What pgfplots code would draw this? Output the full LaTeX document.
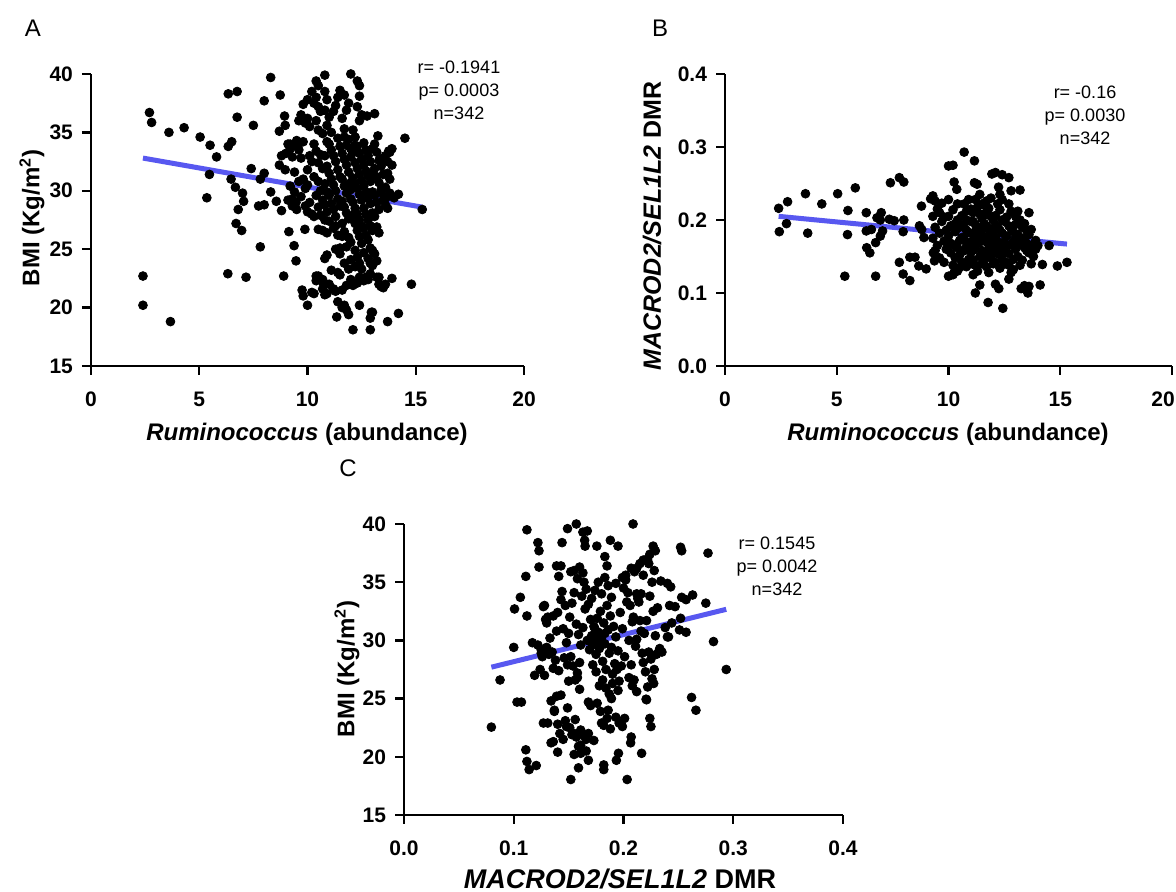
\documentclass[border=0pt]{standalone}
\usepackage{fontspec}
\setmainfont{Liberation Sans}
\usepackage{pgfplots}
\pgfplotsset{compat=1.18}
\definecolor{regblue}{RGB}{88,88,240}
\pgfplotsset{
  panel/.style={
    scale only axis, anchor=south west,
    axis x line*=bottom, axis y line*=left,
    axis line style={line width=1.2pt,-},
    tick align=outside, major tick length=4.5pt,
    tick style={line width=1.2pt, black},
    tick label style={font=\bfseries\fontsize{10.5}{12}\selectfont},
    xticklabel style={yshift=-5pt},
    yticklabel style={xshift=-1pt},
    clip=false,
  },
  dots/.style={only marks, mark=*, mark size=2.2pt, black, mark options={fill=black, draw=none}},
  reg/.style={regblue, line width=2.5pt, no marks},
}
\newcommand{\lab}{\bfseries\fontsize{12}{14}\selectfont}
\newcommand{\labb}{\bfseries\fontsize{12.5}{15}\selectfont}
\newcommand{\labm}{\bfseries\fontsize{13.5}{16}\selectfont}
\newcommand{\ann}{\fontsize{9}{11.5}\selectfont}
\begin{document}
\begin{tikzpicture}
\path[use as bounding box] (0,0) rectangle (588pt,446pt);
% ---------------- A
\begin{axis}[panel, at={(45.5pt,263pt)}, width=216.5pt, height=146pt,
  xmin=0, xmax=20, ymin=15, ymax=40,
  xtick={0,5,10,15,20}, xticklabels={0,5,10,15,20},
  ytick={15,20,25,30,35,40}, yticklabels={15,20,25,30,35,40}]
\addplot[reg] coordinates {(2.4,32.8) (15.3,28.6)};
\addplot[dots] coordinates {
(2.4,22.7)(2.4,20.2)(2.7,36.7)(2.8,35.85)(3.67,18.8)(3.6,35.0)(4.3,35.4)(5.04,34.6)(5.5,33.9)(5.47,31.4)(5.35,29.4)(5.8,32.9)
(6.34,38.3)(6.75,38.5)(6.75,36.3)(6.34,33.8)(6.5,34.2)(6.47,31.0)(6.67,30.3)(7.0,29.8)(7.05,29.1)(6.8,28.4)(6.7,27.2)(6.96,26.6)
(6.32,22.9)(7.16,22.6)(7.4,31.9)(7.5,35.6)(7.82,25.2)(8.0,37.7)(8.3,39.7)(8.0,31.5)(7.82,31.0)(7.74,28.7)(8.0,28.8)(8.3,29.9)
(8.74,38.2)(8.94,36.4)(8.97,35.6)(8.7,35.1)(8.8,33.0)(8.7,32.2)(8.97,31.8)(8.56,29.1)(8.8,28.3)(8.9,22.7)(9.14,26.5)(9.38,25.3)
(9.47,24.0)(9.3,29.3)(9.47,29.0)(9.2,34.0)(9.55,33.8)(9.75,21.5)(9.8,21.0)(10.0,20.2)(9.88,26.7)(10.4,39.4)(10.8,39.9)
(10.3,21.2)(10.4,22.7)(10.7,22.4)(10.75,22.0)(10.8,21.1)(10.8,24.2)(11.3,21.4)(11.35,19.2)(11.4,20.5)(11.7,20.2)(11.8,19.8)(11.9,19.4)
(12.1,18.1)(12.4,20.2)(12.9,18.1)(12.9,19.1)(12.95,19.6)(13.7,18.8)(14.2,19.5)(13.9,22.5)(14.8,22.0)(14.5,34.5)(15.3,28.4)
(12.0,40.0)(12.3,39.4)(12.4,39.0)(12.4,38.1)(12.3,37.2)(13.1,36.6)(12.75,36.4)(13.25,34.7)(13.75,33.4)(14.2,29.7)
(9.6,33.5)(9.7,32.8)(9.8,31.0)(9.9,30.2)(9.7,29.5)(9.9,28.7)(10.0,28.2)(9.8,34.2)(9.9,35.8)(10.0,36.2)(10.1,35.5)(9.6,30.8)(10.0,31.8)(10.1,33.0)(10.2,32.5)(10.1,29.0)(10.2,28.0)(10.3,27.8)(10.0,30.5)
(10.3,37.5)(10.4,38.0)(10.5,37.2)(10.6,36.8)(10.4,36.0)(10.5,35.2)(10.7,34.9)(10.3,34.0)(10.4,33.4)(10.6,33.1)(10.5,32.4)(10.7,31.9)(10.3,31.2)(10.5,30.8)(10.6,30.0)(10.4,29.6)(10.7,29.2)(10.5,28.6)(10.6,27.9)(10.8,27.5)(10.7,26.6)(10.9,26.4)(10.5,26.7)(10.8,38.5)(10.9,37.8)(10.8,36.9)(10.9,35.6)(10.9,34.2)(10.8,33.0)(10.9,32.1)(10.8,30.6)(10.9,29.9)(10.8,28.8)(10.9,28.2)(10.9,24.5)
(11.0,36.3)(11.1,35.0)(11.2,36.8)(11.3,37.3)(11.4,38.0)(11.5,38.6)(11.0,34.0)(11.1,33.5)(11.2,33.0)(11.3,32.5)(11.4,34.5)(11.5,33.8)(11.0,31.5)(11.1,31.0)(11.2,30.5)(11.3,30.0)(11.4,31.8)(11.5,31.2)(11.0,29.6)(11.1,28.9)(11.2,28.4)(11.3,27.8)(11.4,29.3)(11.5,28.7)(11.0,27.4)(11.2,26.8)(11.3,27.0)(11.4,26.2)(11.5,25.1)(11.3,25.0)(11.1,23.2)(11.4,23.0)(11.2,21.6)(11.5,24.6)(11.6,26.1)(11.0,22.0)(11.5,22.8)
(11.6,36.2)(11.7,35.3)(11.8,36.9)(11.9,37.5)(11.7,34.6)(11.8,33.9)(11.9,34.4)(12.0,33.6)(11.6,33.2)(11.7,32.7)(11.8,32.2)(11.9,31.6)(12.0,32.9)(11.6,31.0)(11.7,30.4)(11.8,29.8)(11.9,30.6)(12.0,30.1)(11.6,29.1)(11.7,28.6)(11.8,28.1)(11.9,27.6)(12.0,29.3)(11.6,27.2)(11.7,26.5)(11.9,26.0)(12.0,25.6)(11.8,25.2)(11.7,23.8)(11.9,23.3)(12.0,22.4)(11.8,21.9)(12.0,24.1)(11.6,21.5)(11.7,38.2)
(12.1,35.2)(12.2,34.6)(12.3,33.8)(12.4,33.2)(12.5,32.7)(12.1,33.3)(12.2,32.4)(12.3,31.9)(12.4,31.4)(12.5,30.9)(12.1,31.1)(12.2,30.6)(12.3,30.2)(12.4,29.7)(12.5,29.2)(12.1,29.0)(12.2,28.5)(12.3,28.0)(12.4,27.5)(12.5,27.0)(12.1,27.9)(12.2,27.2)(12.3,26.6)(12.4,26.1)(12.5,25.5)(12.2,24.9)(12.3,24.3)(12.4,23.8)(12.5,23.3)(12.2,23.5)(12.4,22.6)(12.1,21.9)(12.3,22.1)(12.5,36.5)(12.4,36.0)(12.2,33.9)
(12.6,34.1)(12.7,33.5)(12.8,33.0)(12.9,32.5)(13.0,33.6)(12.6,32.2)(12.7,31.7)(12.8,31.3)(12.9,30.8)(13.0,31.5)(12.6,30.4)(12.7,29.9)(12.8,29.4)(12.9,28.9)(13.0,29.9)(12.6,28.5)(12.7,28.0)(12.8,27.5)(12.9,27.0)(13.0,28.1)(12.6,26.8)(12.7,26.2)(12.8,25.8)(12.9,25.1)(13.0,26.6)(12.6,24.7)(12.8,24.2)(12.9,23.8)(13.0,24.9)(12.7,22.6)(12.9,22.9)(13.0,23.6)(12.6,22.3)
(13.1,34.0)(13.2,33.3)(13.3,32.6)(13.4,32.1)(13.5,32.8)(13.1,31.9)(13.2,31.2)(13.3,30.7)(13.4,30.1)(13.5,31.4)(13.1,29.6)(13.2,29.0)(13.3,28.4)(13.4,29.8)(13.5,29.2)(13.1,27.8)(13.2,26.9)(13.3,26.4)(13.1,24.6)(13.2,24.0)(13.3,22.0)(13.4,21.8)(13.5,21.7)(13.6,22.0)(13.2,22.6)
(13.6,33.0)(13.7,32.5)(13.8,33.3)(13.9,33.6)(13.7,31.5)(13.8,31.0)(13.6,30.3)(13.7,29.5)(13.8,29.8)(13.6,28.8)(13.7,28.5)(14.0,29.4)(13.9,32.2)
(9.1,34.0)(9.2,33.6)(9.3,32.9)(9.4,31.6)(9.2,30.4)(9.4,29.9)(9.3,28.7)(9.5,28.4)(9.1,29.2)(9.0,33.2)(9.5,34.3)(9.6,36.0)(9.7,36.5)(9.8,37.4)(10.0,37.8)(10.2,38.5)(10.5,39.0)
(10.2,21.3)(10.5,22.7)(10.9,21.2)(11.6,20.0)(12.8,22.4)(13.0,19.6)(13.3,22.6)(10.4,22.3)(10.7,21.6)
};
\end{axis}
% ---------------- B
\begin{axis}[panel, at={(362.5pt,263pt)}, width=223.5pt, height=146pt,
  xmin=0, xmax=20, ymin=0, ymax=0.4,
  xtick={0,5,10,15,20}, xticklabels={0,5,10,15,{\hspace*{-9pt}20}},
  ytick={0,0.1,0.2,0.3,0.4}, yticklabels={0.0,0.1,0.2,0.3,0.4}]
\addplot[reg] coordinates {(2.4,0.205) (15.3,0.167)};
\addplot[dots] coordinates {
(2.4,0.216)(2.43,0.184)(2.8,0.225)(2.75,0.195)(3.6,0.236)(3.7,0.182)(4.33,0.222)(5.04,0.236)(5.83,0.244)(5.5,0.213)(5.48,0.180)(5.36,0.123)
(6.32,0.210)(6.32,0.185)(6.55,0.187)(6.34,0.162)(6.48,0.155)(6.74,0.169)(6.74,0.123)(6.99,0.210)(6.95,0.200)(6.8,0.203)(7.05,0.185)(6.95,0.178)
(7.4,0.251)(7.8,0.258)(8.0,0.252)(7.35,0.201)(7.57,0.199)(8.0,0.200)(7.97,0.184)(7.8,0.142)(7.97,0.126)(8.27,0.117)(8.27,0.149)(8.5,0.149)(8.67,0.137)
(9.0,0.133)(8.79,0.219)(8.7,0.192)(8.8,0.187)(8.9,0.176)(9.2,0.229)(9.3,0.233)(10.0,0.274)(10.2,0.275)(10.7,0.293)(11.16,0.281)(10.25,0.252)(10.37,0.242)
(11.16,0.251)(11.28,0.249)(11.94,0.263)(12.1,0.265)(12.4,0.262)(12.7,0.258)(12.24,0.245)(12.8,0.240)(13.2,0.241)(13.6,0.210)(13.7,0.187)(14.5,0.165)
(14.2,0.139)(14.87,0.137)(15.3,0.142)(14.1,0.111)(13.6,0.109)(13.4,0.110)(13.25,0.106)(13.55,0.100)(11.77,0.087)(12.43,0.079)(11.2,0.100)(11.4,0.111)
(12.1,0.112)(12.25,0.106)(12.7,0.119)(10.0,0.123)(10.25,0.128)(9.37,0.144)(9.32,0.155)
(9.3,0.175)(9.4,0.190)(9.5,0.165)(9.6,0.182)(9.7,0.198)(9.8,0.171)(9.9,0.186)(9.4,0.158)(9.6,0.148)(9.8,0.204)(9.5,0.215)(9.7,0.223)(9.9,0.160)(9.3,0.205)(9.6,0.210)(9.8,0.142)(9.4,0.226)
(10.0,0.178)(10.1,0.192)(10.2,0.166)(10.3,0.184)(10.4,0.200)(10.5,0.172)(10.0,0.205)(10.1,0.155)(10.2,0.214)(10.3,0.148)(10.4,0.162)(10.5,0.190)(10.0,0.228)(10.2,0.138)(10.4,0.222)(10.5,0.152)(10.1,0.168)(10.3,0.195)(10.5,0.135)(10.4,0.130)(10.2,0.125)
(10.6,0.176)(10.7,0.190)(10.8,0.164)(10.9,0.183)(11.0,0.198)(10.6,0.206)(10.7,0.158)(10.8,0.212)(10.9,0.146)(11.0,0.170)(10.6,0.142)(10.7,0.222)(10.8,0.186)(10.9,0.228)(11.0,0.155)(10.6,0.193)(10.8,0.136)(11.0,0.215)(10.9,0.165)(10.7,0.174)(10.8,0.200)(11.0,0.140)
(11.1,0.180)(11.2,0.194)(11.3,0.168)(11.4,0.186)(11.5,0.202)(11.1,0.210)(11.2,0.160)(11.3,0.218)(11.4,0.150)(11.5,0.174)(11.1,0.145)(11.2,0.228)(11.3,0.190)(11.4,0.235)(11.5,0.158)(11.1,0.198)(11.2,0.138)(11.3,0.130)(11.4,0.208)(11.5,0.188)(11.3,0.176)(11.5,0.222)(11.4,0.170)(11.2,0.184)(11.1,0.125)(11.5,0.140)
(11.6,0.178)(11.7,0.192)(11.8,0.166)(11.9,0.184)(12.0,0.200)(11.6,0.208)(11.7,0.156)(11.8,0.216)(11.9,0.148)(12.0,0.172)(11.6,0.146)(11.7,0.226)(11.8,0.188)(11.9,0.230)(12.0,0.158)(11.6,0.195)(11.7,0.136)(11.8,0.128)(11.9,0.205)(12.0,0.186)(11.8,0.174)(11.7,0.170)(12.0,0.140)(11.9,0.162)(11.6,0.220)
(12.1,0.176)(12.2,0.190)(12.3,0.164)(12.4,0.182)(12.5,0.198)(12.1,0.206)(12.2,0.154)(12.3,0.214)(12.4,0.146)(12.5,0.170)(12.1,0.142)(12.2,0.222)(12.3,0.186)(12.4,0.228)(12.5,0.156)(12.1,0.193)(12.3,0.134)(12.5,0.140)(12.2,0.170)(12.4,0.200)(12.3,0.235)(12.1,0.160)
(12.6,0.178)(12.7,0.192)(12.8,0.166)(12.9,0.184)(13.0,0.176)(12.6,0.204)(12.7,0.154)(12.8,0.212)(12.9,0.146)(13.0,0.160)(12.6,0.142)(12.7,0.222)(12.8,0.188)(12.9,0.132)(13.0,0.194)(12.8,0.128)(12.6,0.165)(12.9,0.170)(12.7,0.138)
(13.1,0.180)(13.2,0.166)(13.3,0.190)(13.4,0.172)(13.5,0.158)(13.6,0.180)(13.7,0.165)(13.8,0.150)(13.9,0.160)(13.1,0.150)(13.2,0.200)(13.3,0.145)(13.4,0.162)(13.5,0.185)(13.6,0.155)(13.7,0.140)(13.2,0.138)(13.4,0.195)(13.0,0.205)(13.1,0.212)(13.3,0.175)(14.0,0.165)(13.9,0.172)(13.5,0.168)
};
\end{axis}
% ---------------- C
\begin{axis}[panel, at={(202pt,38.5pt)}, width=219.5pt, height=145.5pt,
  xmin=0, xmax=0.4, ymin=15, ymax=40,
  xtick={0,0.1,0.2,0.3,0.4}, xticklabels={0.0,0.1,0.2,0.3,0.4},
  ytick={15,20,25,30,35,40}, yticklabels={15,20,25,30,35,40}]
\addplot[reg] coordinates {(0.0796,27.7) (0.2936,32.67)};
\addplot[dots] coordinates {
(0.0796,22.55)(0.0875,26.6)(0.100,29.4)(0.1007,32.7)(0.106,33.7)(0.103,24.7)(0.107,24.7)(0.111,35.5)(0.112,32.1)(0.112,39.5)(0.111,20.6)(0.112,19.6)(0.114,18.9)
(0.1205,19.25)(0.117,29.8)(0.119,27.0)(0.122,38.4)(0.123,37.7)(0.123,36.3)(0.128,33.0)(0.127,22.9)(0.131,32.0)(0.136,32.1)(0.125,29.2)(0.134,21.2)(0.137,24.0)(0.139,25.2)
(0.139,36.4)(0.143,36.4)(0.141,35.5)(0.144,38.4)(0.149,39.6)(0.157,40.0)(0.163,39.3)(0.167,39.4)(0.1646,38.6)(0.165,38.1)(0.1757,38.1)(0.183,37.2)(0.185,36.4)(0.188,38.6)(0.195,38.1)(0.2087,40.0)
(0.152,18.05)(0.159,19.05)(0.155,20.2)(0.161,20.3)(0.161,21.0)(0.166,20.5)(0.168,19.7)(0.182,19.3)(0.182,18.9)(0.1935,19.7)(0.1954,20.3)(0.2033,18.05)(0.207,21.7)(0.2065,21.2)(0.2165,20.3)
(0.224,23.3)(0.225,22.6)(0.2206,24.95)(0.2096,26.6)(0.212,25.6)(0.2275,26.3)(0.262,25.1)(0.266,24.0)(0.282,29.9)(0.2936,27.5)(0.277,37.5)(0.275,33.2)(0.263,33.9)(0.257,33.5)(0.253,33.7)
(0.252,38.0)(0.253,37.7)(0.252,31.9)(0.251,30.9)(0.257,30.7)(0.234,35.1)(0.240,34.9)(0.243,34.6)(0.242,33.0)(0.233,29.3)(0.232,29.0)(0.240,30.3)(0.227,38.1)(0.229,37.7)(0.218,36.9)(0.223,36.6)(0.212,36.2)(0.207,36.2)(0.199,35.4)(0.202,35.2)(0.193,34.9)
(0.130,31.5)(0.133,30.2)(0.135,29.0)(0.138,28.3)(0.140,32.4)(0.143,33.5)(0.145,31.0)(0.148,29.8)(0.132,28.8)(0.136,27.6)(0.141,27.4)(0.144,34.2)(0.147,33.0)(0.150,30.6)(0.139,30.8)(0.146,28.5)(0.149,27.9)(0.134,24.8)(0.137,23.9)(0.140,22.8)(0.142,22.0)(0.145,21.5)(0.147,23.1)(0.149,24.2)(0.136,21.3)(0.143,25.3)(0.148,22.6)(0.131,22.9)(0.140,20.4)
(0.151,32.0)(0.153,33.2)(0.155,34.1)(0.157,31.4)(0.159,30.5)(0.161,29.6)(0.163,31.1)(0.165,32.7)(0.167,30.0)(0.169,29.2)(0.152,28.6)(0.154,27.8)(0.156,26.6)(0.158,27.2)(0.160,28.1)(0.162,33.8)(0.164,35.0)(0.166,34.4)(0.168,33.1)(0.170,31.8)(0.152,35.9)(0.155,36.0)(0.158,35.3)(0.160,36.3)(0.163,35.8)(0.151,22.5)(0.153,21.9)(0.155,22.0)(0.157,21.7)(0.159,20.9)(0.161,22.3)(0.164,21.8)(0.166,21.5)(0.168,22.0)(0.170,24.4)(0.168,24.7)(0.160,25.8)(0.156,23.2)(0.158,26.8)(0.150,26.5)
(0.171,30.4)(0.172,29.6)(0.173,31.2)(0.174,30.0)(0.175,28.8)(0.176,31.9)(0.177,30.7)(0.178,29.3)(0.179,32.5)(0.180,30.1)(0.181,28.2)(0.182,31.5)(0.183,29.7)(0.184,27.5)(0.185,33.0)(0.186,30.9)(0.187,28.9)(0.188,32.1)(0.189,29.4)(0.190,27.1)(0.171,33.6)(0.174,34.3)(0.177,35.0)(0.180,34.0)(0.183,35.4)(0.186,34.7)(0.189,33.7)(0.172,27.9)(0.175,27.3)(0.178,26.1)(0.181,26.6)(0.184,25.9)(0.187,25.4)(0.190,26.3)(0.176,24.6)(0.179,23.9)(0.182,22.7)(0.185,23.3)(0.188,22.4)(0.173,21.4)(0.180,22.9)(0.186,24.0)(0.189,25.0)(0.174,31.0)(0.178,30.5)(0.183,30.6)(0.176,29.9)
(0.191,31.2)(0.193,30.3)(0.195,29.1)(0.197,32.4)(0.199,31.0)(0.201,28.6)(0.203,33.3)(0.205,30.0)(0.207,27.9)(0.209,32.0)(0.211,29.5)(0.213,33.6)(0.215,31.7)(0.217,28.9)(0.219,30.6)(0.192,28.0)(0.194,27.5)(0.196,26.5)(0.198,27.8)(0.200,34.5)(0.202,35.6)(0.204,34.1)(0.206,33.0)(0.208,31.6)(0.210,35.9)(0.212,34.0)(0.214,33.3)(0.216,30.8)(0.218,28.1)(0.220,27.3)(0.193,23.4)(0.196,22.9)(0.199,22.6)(0.201,23.3)(0.205,26.8)(0.208,26.1)(0.212,30.1)(0.195,25.7)
(0.221,31.7)(0.223,29.0)(0.225,28.4)(0.227,32.5)(0.229,30.4)(0.224,33.8)(0.226,35.0)(0.228,36.0)(0.222,37.0)(0.224,37.4)(0.230,28.8)(0.231,32.8)(0.235,29.0)(0.238,31.1)(0.241,30.3)(0.244,31.5)(0.247,32.9)(0.222,26.0)(0.226,26.7)(0.228,27.5)(0.221,24.9)(0.216,34.0)(0.218,35.6)(0.215,36.6)
(0.122,29.6)(0.125,28.9)(0.128,29.2)(0.126,28.6)(0.129,31.8)(0.127,32.9)(0.130,29.4)(0.124,27.5)(0.128,27.0)
};
\end{axis}
% ---------------- texts
\node[font=\fontsize{12}{14}\selectfont] at (16.5pt,432pt) {A};
\node[font=\fontsize{12}{14}\selectfont] at (330pt,432pt) {B};
\node[font=\fontsize{12}{14}\selectfont] at (174pt,212pt) {C};
\node[font=\ann, align=center] at (229.5pt,401pt) {r= -0.1941\\p= 0.0003\\n=342};
\node[font=\ann, align=center] at (542.5pt,388.5pt) {r= -0.16\\p= 0.0030\\n=342};
\node[font=\ann, align=center] at (388.5pt,163pt) {r= 0.1545\\p= 0.0042\\n=342};
\node[font=\lab] at (153.5pt,229pt) {\textit{Ruminococcus} (abundance)};
\node[font=\lab] at (474pt,229pt) {\textit{Ruminococcus} (abundance)};
\node[font=\labm] at (310pt,6.5pt) {\textit{MACROD2/SEL1L2} DMR};
\node[font=\lab, rotate=90] at (16pt,337pt) {BMI (Kg/m\textsuperscript{2})};
\node[font=\labb, rotate=90] at (326pt,333pt) {\textit{MACROD2/SEL1L2} DMR};
\node[font=\lab, rotate=90] at (173.5pt,111.5pt) {BMI (Kg/m\textsuperscript{2})};
\end{tikzpicture}
\end{document}
